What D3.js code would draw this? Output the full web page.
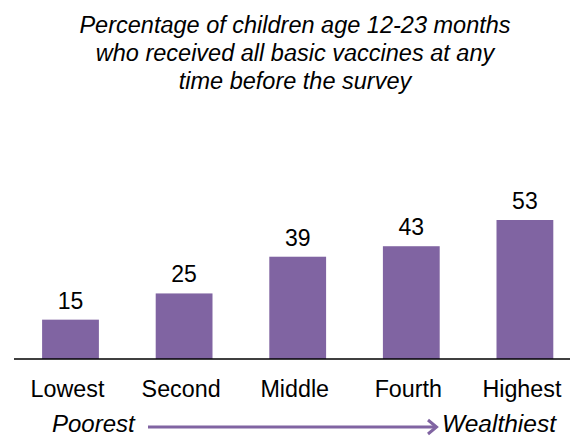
<!DOCTYPE html>
<html><head><meta charset="utf-8">
<script src="https://cdn.jsdelivr.net/npm/d3@7"></script>
<style>body{margin:0;background:#fff}svg{display:block}</style>
</head><body>
<svg id="c" width="572" height="437"></svg>
<script>
const categories = ["Lowest", "Second", "Middle", "Fourth", "Highest"];
const values = [15, 25, 39, 43, 53];
const titleLines = ["Percentage of children age 12-23 months", "who received all basic vaccines at any", "time before the survey"];
const leftLabel = "Poorest";
const rightLabel = "Wealthiest";

const svg = d3.select("#c");
const font = "Arial, 'Liberation Sans', sans-serif";
const purple = "#8064A2";
const baseY = 359;

const x = d3.scaleBand().domain(categories).range([13.7, 581.7]).paddingInner(0.5).paddingOuter(0.25);
const y = d3.scaleLinear().domain([0, 53]).range([baseY, 220]);

// title
svg.append("g").selectAll("text").data(titleLines).join("text")
  .attr("x", 295).attr("y", (d, i) => 33 + i * 28)
  .attr("text-anchor", "middle").attr("font-family", font).attr("font-style", "italic")
  .attr("font-size", 23.5).attr("fill", "#000").text(d => d);

// bars
svg.append("g").selectAll("rect").data(values).join("rect")
  .attr("x", (d, i) => x(categories[i])).attr("width", x.bandwidth())
  .attr("y", d => y(d)).attr("height", d => baseY - y(d))
  .attr("fill", purple);

// value labels
svg.append("g").selectAll("text").data(values).join("text")
  .attr("x", (d, i) => x(categories[i]) + x.bandwidth() / 2)
  .attr("y", d => y(d) - 11)
  .attr("text-anchor", "middle").attr("font-family", font).attr("font-size", 23)
  .attr("fill", "#000").text(d => d);

// axis
const axis = svg.append("g").attr("transform", `translate(0,${baseY})`)
  .call(d3.axisBottom(x).tickSize(0).tickPadding(0));
axis.select(".domain").remove();
axis.append("line").attr("x1", 14).attr("x2", 570).attr("y1", 0).attr("y2", 0)
  .attr("stroke", "#000").attr("stroke-width", 1.3);
axis.selectAll(".tick text").attr("y", 38).attr("x", -3).attr("dy", null)
  .attr("font-family", font).attr("font-size", 23.3).attr("fill", "#000");

// bottom arrow
svg.append("text").attr("x", 52).attr("y", 432).attr("font-family", font)
  .attr("font-style", "italic").attr("font-size", 24).attr("fill", "#000").text(leftLabel);
svg.append("text").attr("x", 556).attr("y", 432).attr("text-anchor", "end").attr("font-family", font)
  .attr("font-style", "italic").attr("font-size", 24.5).attr("fill", "#000").text(rightLabel);
svg.append("line").attr("x1", 148).attr("x2", 436).attr("y1", 427).attr("y2", 427)
  .attr("stroke", purple).attr("stroke-width", 3);
svg.append("path").attr("d", "M428,420 L436.5,427 L428,434").attr("fill", "none")
  .attr("stroke", purple).attr("stroke-width", 3).attr("stroke-linejoin", "miter");
</script>
</body></html>
